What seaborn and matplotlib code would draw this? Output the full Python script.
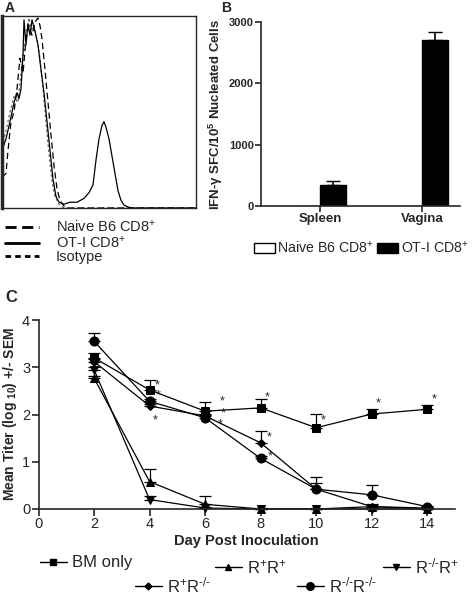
import numpy as np
import pandas as pd
import matplotlib.pyplot as plt
import seaborn as sns
from matplotlib.lines import Line2D
from matplotlib.patches import Patch

sns.set_style('ticks')
plt.rcParams['font.family'] = ['Liberation Sans', 'DejaVu Sans']
plt.rcParams['mathtext.fontset'] = 'custom'
plt.rcParams['mathtext.rm'] = 'Liberation Sans'
plt.rcParams['mathtext.it'] = 'Liberation Sans:italic'
plt.rcParams['mathtext.bf'] = 'Liberation Sans:bold'
plt.rcParams['axes.linewidth'] = 1.2

# Panel A: flow histograms (x = channel position, y = % of max)
ot1_x = [0, 4, 8, 12, 15, 17, 19, 21, 22, 24, 26, 28, 30, 33, 36, 39, 42, 45, 48, 51, 54, 57,
         62, 68, 75, 82, 87, 91, 94, 97, 100, 102, 104, 107, 110, 113, 116, 119, 122, 126, 130, 194]
ot1_y = [30, 36, 45, 55, 60, 57, 62, 80, 98, 85, 96, 90, 98, 92, 85, 72, 60, 45, 30, 15, 6, 3,
         2, 3, 3, 5, 8, 12, 25, 36, 43, 45, 42, 36, 27, 18, 9, 4, 1.5, 0.5, 0, 0]
naive_x = [0, 4, 6, 9, 12, 15, 18, 21, 24, 27, 30, 33, 36, 38, 40, 43, 46, 49, 52, 55, 58, 62, 66, 194]
naive_y = [16, 18, 30, 45, 50, 62, 78, 70, 88, 95, 90, 97, 99, 95, 88, 72, 55, 38, 22, 10, 4, 1, 0, 0]
iso_x = [0, 4, 8, 12, 16, 20, 24, 27, 29, 32, 35, 38, 41, 44, 47, 50, 53, 57, 62, 194]
iso_y = [32, 40, 50, 58, 55, 75, 90, 99, 93, 95, 88, 78, 62, 45, 28, 14, 6, 2, 0, 0]

# Panel B: ELISPOT
tissues = ['Spleen', 'Vagina']
cells = ['Naive B6 CD8$^{+}$', 'OT-I CD8$^{+}$']
naive_sfc = [0, 0]
ot1_sfc = [350, 2710]
ot1_sem = [65, 120]

# Panel C: viral titers
days = [2, 4, 6, 8, 10, 12, 14]
groups = ['BM only', 'R$^{+}$R$^{+}$', 'R$^{\\text{-/-}}$R$^{+}$',
          'R$^{+}$R$^{\\text{-/-}}$', 'R$^{\\text{-/-}}$R$^{\\text{-/-}}$']
markers = ['s', '^', 'v', 'D', 'o']
marker_sizes = [6, 6, 6, 4.5, 6.5]
bm_only = [3.20, 2.52, 2.07, 2.14, 1.72, 2.01, 2.11]
bm_only_sem = [0.10, 0.22, 0.20, 0.18, 0.30, 0.10, 0.09]
rprp = [2.77, 0.58, 0.10, 0.00, 0.00, 0.05, 0.00]
rprp_sem = [0.05, 0.26, 0.18, 0.02, 0.02, 0.03, 0.02]
rkrp = [2.95, 0.20, 0.02, 0.00, 0.00, 0.00, 0.00]
rkrp_sem = [0.05, 0.08, 0.02, 0.00, 0.00, 0.00, 0.00]
rprk = [3.12, 2.18, 1.97, 1.40, 0.42, 0.05, 0.02]
rprk_sem = [0.05, 0.05, 0.05, 0.25, 0.26, 0.05, 0.02]
rkrk = [3.55, 2.28, 1.93, 1.07, 0.42, 0.30, 0.05]
rkrk_sem = [0.18, 0.05, 0.05, 0.05, 0.13, 0.20, 0.02]
star_x = [4.26, 4.32, 4.2, 6.6, 6.64, 6.54, 8.22, 8.31, 8.34, 10.26, 12.25, 14.25]
star_y = [2.62, 2.40, 1.88, 2.28, 2.02, 1.80, 2.37, 1.52, 1.12, 1.88, 2.23, 2.32]

W, H = 475, 596
fig = plt.figure(figsize=(W / 100, H / 100), dpi=100)

# ---- Panel A
axA = fig.add_axes([2 / W, 1 - 208 / H, 194 / W, 192 / H])
sns.lineplot(x=iso_x, y=iso_y, ax=axA, color='#666666', lw=0.9, linestyle=(0, (2, 2)))
sns.lineplot(x=naive_x, y=naive_y, ax=axA, color='black', lw=0.9, linestyle=(0, (5, 3)))
sns.lineplot(x=ot1_x, y=ot1_y, ax=axA, color='black', lw=0.9)
axA.set_xlim(0, 194)
axA.set_ylim(0, 100)
axA.set_xticks([])
axA.set_yticks([])
for s in axA.spines.values():
    s.set_linewidth(1.0)
axA.spines['left'].set_linewidth(2.5)
fig.text(5 / W, 1 - 8 / H, 'A', fontsize=10, fontweight='bold', va='center')
handlesA = [Line2D([], [], color='black', lw=2, linestyle=(0, (4, 2))),
            Line2D([], [], color='black', lw=2),
            Line2D([], [], color='black', lw=2, linestyle=(0, (2, 1.5)))]
legA_y = [227, 243, 257]
for h, lab, py in zip(handlesA, cells + ['Isotype'], legA_y):
    fig.legend([h], [lab], loc='center left', bbox_to_anchor=(5 / W, 1 - py / H),
               frameon=False, fontsize=10.5, handlelength=2.3, handletextpad=1.2,
               borderpad=0, borderaxespad=0)

# ---- Panel B
axB = fig.add_axes([261 / W, 1 - 206 / H, 199 / W, 184 / H])
dfB = pd.DataFrame({'tissue': tissues * 2,
                    'cell': [cells[0]] * 2 + [cells[1]] * 2,
                    'sfc': naive_sfc + ot1_sfc})
sns.barplot(data=dfB, x='tissue', y='sfc', hue='cell', ax=axB, palette=['white', 'black'],
            edgecolor='black', width=0.5, legend=False, errorbar=None)
ot1_bars = axB.containers[1]
bx = [b.get_x() + b.get_width() / 2 for b in ot1_bars]
axB.errorbar(bx, ot1_sfc, yerr=[[0] * 2, ot1_sem], fmt='none', ecolor='black', capsize=5, elinewidth=1.2)
axB.set_ylim(0, 3000)
axB.set_xlim(-0.58, 1.37)
axB.set_yticks([0, 1000, 2000, 3000])
axB.tick_params(labelsize=8, width=1.2, length=4, pad=1)
for lab in axB.get_yticklabels() + axB.get_xticklabels():
    lab.set_fontweight('bold')
axB.set_xticklabels(tissues, fontsize=9.5, fontweight='bold')
axB.set_xlabel('')
axB.set_ylabel('IFN-γ SFC/10$^{\\mathbf{5}}$ Nucleated Cells', fontsize=9.5, fontweight='bold', labelpad=3)
sns.despine(ax=axB)
fig.text(221 / W, 1 - 8 / H, 'B', fontsize=10, fontweight='bold', va='center')
handlesB = [Patch(facecolor='white', edgecolor='black'), Patch(facecolor='black', edgecolor='black')]
fig.legend(handlesB, cells, loc='center left', bbox_to_anchor=(254 / W, 1 - 248 / H), ncol=2,
           frameon=False, fontsize=10.2, handlelength=1.5, handleheight=0.7, handletextpad=0.15,
           columnspacing=0.2, borderpad=0, borderaxespad=0)

# ---- Panel C
axC = fig.add_axes([38.5 / W, 1 - 509 / H, 416.5 / W, 189 / H])
series = [bm_only, rprp, rkrp, rprk, rkrk]
sems = [bm_only_sem, rprp_sem, rkrp_sem, rprk_sem, rkrk_sem]
dfC = pd.DataFrame({'day': days * len(groups),
                    'titer': sum(series, []),
                    'group': sum([[g] * len(days) for g in groups], [])})
for g, vals, err in zip(groups, series, sems):
    axC.errorbar(days, vals, yerr=[[0] * len(days), err], fmt='none', ecolor='black',
                 capsize=4, elinewidth=0.9, capthick=0.9, clip_on=False)
for g, mk, ms in zip(groups, markers, marker_sizes):
    sns.lineplot(data=dfC[dfC['group'] == g], x='day', y='titer', ax=axC, color='black',
                 marker=mk, markersize=ms, markeredgecolor='black', lw=0.9, clip_on=False)
for x, y in zip(star_x, star_y):
    axC.text(x, y, '*', ha='center', va='center', fontsize=9)
axC.set_xlim(0, 15)
axC.set_ylim(0, 4)
axC.set_xticks(range(0, 15, 2))
axC.set_yticks(range(0, 5))
axC.tick_params(labelsize=10.5, width=1.2, length=5, pad=1)
axC.set_xlabel('Day Post Inoculation', fontsize=10.5, fontweight='bold', labelpad=2)
axC.set_ylabel('Mean Titer (log $_{\\mathbf{10}}$) +/- SEM', fontsize=10, fontweight='bold', labelpad=2)
sns.despine(ax=axC)
fig.text(5 / W, 1 - 297 / H, 'C', fontsize=12, fontweight='bold', va='center')

leg_pos = [(40, 563), (215, 567), (383, 566), (135, 585), (297, 585)]
for g, mk, ms, (px, py) in zip(groups, markers, marker_sizes, leg_pos):
    h = Line2D([], [], color='black', marker=mk, markersize=ms - 1, lw=1)
    fig.legend([h], [g], loc='center left', bbox_to_anchor=(px / W, 1 - py / H), frameon=False,
               fontsize=12, handlelength=1.6, handletextpad=0.3, borderpad=0, borderaxespad=0)

fig.savefig('out.png', dpi=100)
